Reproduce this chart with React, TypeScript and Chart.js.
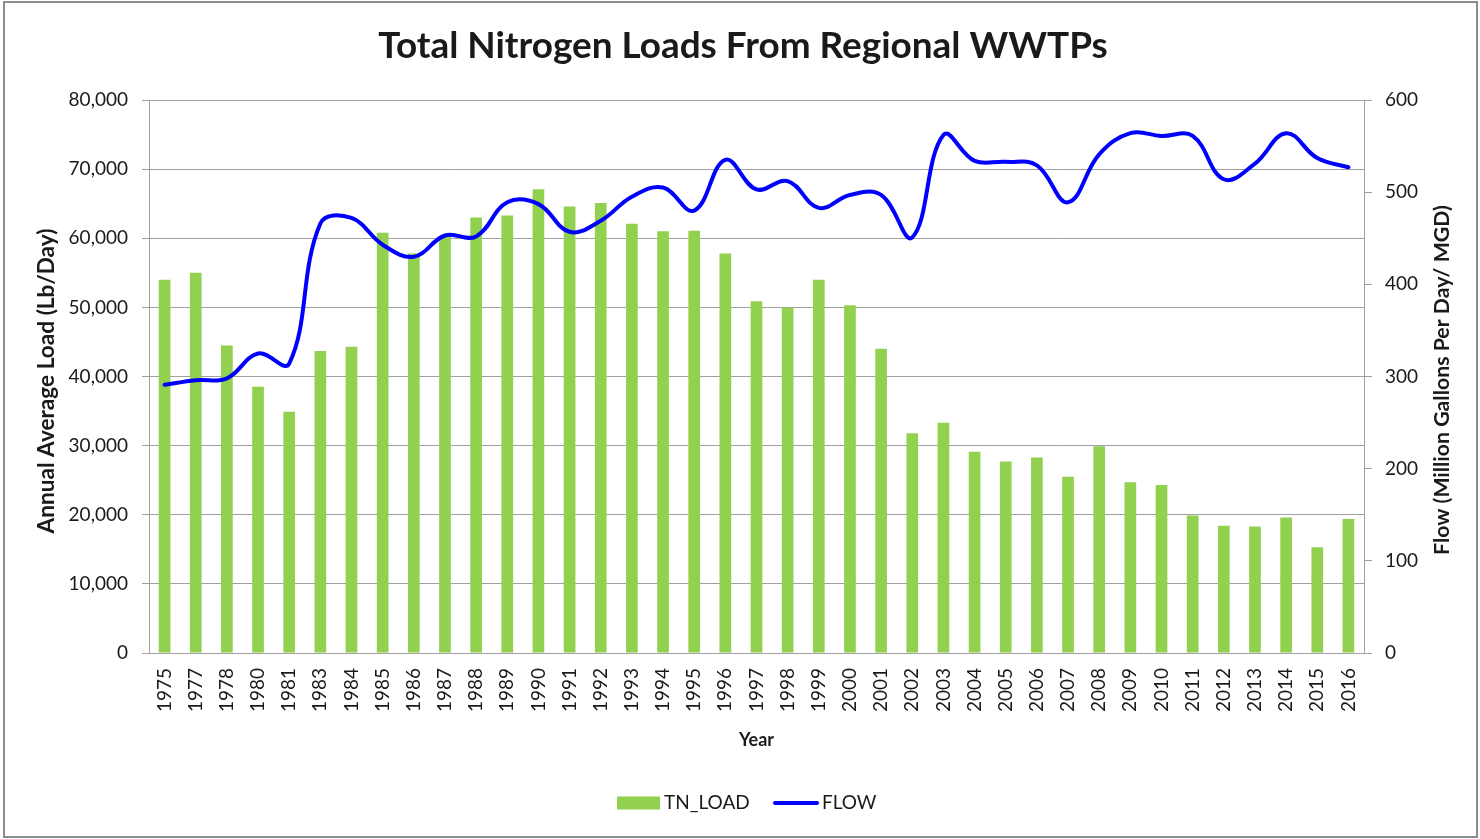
import React, { useEffect, useRef } from "react";
import { Chart, registerables } from "chart.js";
Chart.register(...registerables);

const TITLE = "Total Nitrogen Loads From Regional WWTPs";
const X_TITLE = "Year";
const Y_LEFT_TITLE = "Annual Average Load (Lb/Day)";
const Y_RIGHT_TITLE = "Flow (Million Gallons Per Day/ MGD)";
const LOAD_LABEL = "TN_LOAD";
const FLOW_LABEL = "FLOW";

const YEARS = [
  "1975", "1977", "1978", "1980", "1981", "1983", "1984",
  "1985", "1986", "1987", "1988", "1989", "1990", "1991", "1992", "1993", "1994",
  "1995", "1996", "1997", "1998", "1999", "2000", "2001", "2002", "2003", "2004",
  "2005", "2006", "2007", "2008", "2009", "2010", "2011", "2012", "2013", "2014",
  "2015", "2016",
];

const TN_LOAD = [
  54000, 55000, 44500, 38500, 34900, 43700, 44300,
  60800, 57800, 60300, 63000, 63300, 67100, 64600, 65100, 62100, 61000,
  61100, 57800, 50900, 50000, 54000, 50300, 44000, 31800, 33300, 29100,
  27700, 28300, 25500, 29900, 24700, 24300, 19900, 18400, 18300, 19600,
  15300, 19400,
];

const FLOW = [
  291, 296, 298, 325, 314, 466, 472,
  443, 430, 453, 452, 489, 487, 457, 469, 495, 505,
  480, 535, 503, 512, 483, 497, 497, 451, 562, 534,
  533, 529, 489, 541, 564, 561, 561, 514, 531, 564,
  537, 527,
];

const LEFT_TICKS = { min: 0, max: 80000, step: 10000 };
const RIGHT_TICKS = { min: 0, max: 600, step: 100 };

const FONT = "Lato, 'Open Sans', sans-serif";
const GREEN = "#92D050";
const BLUE = "#0000FF";
const GRID = "#A0A0A0";
const TEXT = "#1a1a1a";

function fitFont(c: CanvasRenderingContext2D, text: string, width: number, weight: string) {
  c.font = `${weight} 100px ${FONT}`;
  const w = c.measureText(text).width;
  const size = (100 * width) / w;
  c.font = `${weight} ${size.toFixed(2)}px ${FONT}`;
}

export default function App() {
  const ref = useRef<HTMLCanvasElement>(null);

  useEffect(() => {
    document.body.style.margin = "0";
    const canvas = ref.current;
    if (!canvas) return;

    const textPlugin = {
      id: "texts",
      afterDraw(chart: any) {
        const c = chart.ctx as CanvasRenderingContext2D;
        const a = chart.chartArea;
        c.save();
        c.fillStyle = TEXT;
        c.textAlign = "center";
        c.textBaseline = "middle";
        fitFont(c, TITLE, 730, "bold");
        c.fillText(TITLE, 743, 46);

        c.font = `bold 18px ${FONT}`;
        c.fillText(X_TITLE, (a.left + a.right) / 2, 740);

        c.save();
        c.translate(47, 381);
        c.rotate(-Math.PI / 2);
        fitFont(c, Y_LEFT_TITLE, 305, "bold");
        c.fillText(Y_LEFT_TITLE, 0, 0);
        c.restore();

        c.save();
        c.translate(1442, 380);
        c.rotate(-Math.PI / 2);
        fitFont(c, Y_RIGHT_TITLE, 350, "bold");
        c.fillText(Y_RIGHT_TITLE, 0, 0);
        c.restore();

        // legend
        const ly = 803;
        c.fillStyle = GREEN;
        c.fillRect(617, ly - 6.5, 43, 13);
        c.fillStyle = TEXT;
        c.textAlign = "left";
        c.font = `19px ${FONT}`;
        c.fillText(LOAD_LABEL, 664, ly);
        c.strokeStyle = BLUE;
        c.lineWidth = 4;
        c.lineCap = "round";
        c.beginPath();
        c.moveTo(775, ly);
        c.lineTo(817, ly);
        c.stroke();
        c.fillText(FLOW_LABEL, 822, ly);
        c.restore();
      },
    };

    const chart = new Chart(canvas, {
      type: "bar",
      data: {
        labels: YEARS,
        datasets: [
          {
            type: "line",
            label: FLOW_LABEL,
            data: FLOW,
            yAxisID: "y1",
            borderColor: BLUE,
            backgroundColor: BLUE,
            borderWidth: 4,
            pointRadius: 0,
            tension: 0.4,
            fill: false,
            borderCapStyle: "round",
            borderJoinStyle: "round",
            order: 0,
          } as any,
          {
            type: "bar",
            label: LOAD_LABEL,
            data: TN_LOAD,
            yAxisID: "y",
            backgroundColor: GREEN,
            barPercentage: 0.375,
            categoryPercentage: 1,
            order: 1,
          } as any,
        ],
      },
      options: {
        responsive: false,
        maintainAspectRatio: false,
        animation: false,
        layout: { padding: { top: 100, left: 0, right: 0, bottom: 0 } },
        plugins: {
          legend: { display: false },
          title: { display: false },
          tooltip: { enabled: false },
        },
        scales: {
          x: {
            offset: true,
            grid: { display: false, drawTicks: false },
            border: { display: true, color: GRID, width: 1 },
            ticks: {
              autoSkip: false,
              minRotation: 90,
              maxRotation: 90,
              padding: 15,
              color: TEXT,
              font: { family: FONT, size: 19 },
            },
            afterFit(s: any) {
              s.height = 186;
            },
          },
          y: {
            position: "left",
            min: LEFT_TICKS.min,
            max: LEFT_TICKS.max,
            ticks: {
              stepSize: LEFT_TICKS.step,
              padding: 14,
              color: TEXT,
              font: { family: FONT, size: 19 },
              callback: (v: any) => Number(v).toLocaleString("en-US"),
            },
            grid: { color: GRID, tickLength: 7, lineWidth: 1 },
            border: { color: GRID, width: 1 },
            afterFit(s: any) {
              s.width = 149;
            },
          },
          y1: {
            position: "right",
            min: RIGHT_TICKS.min,
            max: RIGHT_TICKS.max,
            ticks: {
              stepSize: RIGHT_TICKS.step,
              padding: 13,
              color: TEXT,
              font: { family: FONT, size: 19 },
            },
            grid: { drawOnChartArea: false, tickLength: 8, color: GRID },
            border: { color: GRID, width: 1 },
            afterFit(s: any) {
              s.width = 116;
            },
          },
        },
      },
      plugins: [textPlugin],
    });

    return () => chart.destroy();
  }, []);

  return (
    <div style={{ position: "relative", width: 1480, height: 839, background: "#fff" }}>
      <canvas ref={ref} width={1480} height={839} style={{ display: "block" }} />
      <div
        style={{
          position: "absolute",
          left: 3,
          top: 1,
          width: 1475,
          height: 837,
          border: "2px solid #8c8c8c",
          boxSizing: "border-box",
          pointerEvents: "none",
        }}
      />
    </div>
  );
}
